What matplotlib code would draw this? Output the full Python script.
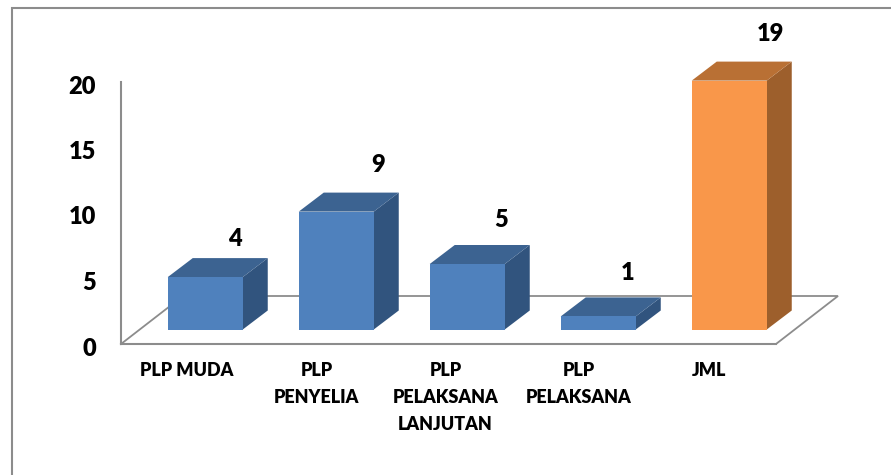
import matplotlib
matplotlib.use("Agg")
import matplotlib.pyplot as plt
from matplotlib.patches import Polygon
from matplotlib.lines import Line2D
from matplotlib.transforms import ScaledTranslation

plt.rcParams['font.family'] = ['Lato', 'DejaVu Sans']

categories = ["PLP MUDA", "PLP\nPENYELIA", "PLP\nPELAKSANA\nLANJUTAN", "PLP\nPELAKSANA", "JML"]
values = [4, 9, 5, 1, 19]
y_ticks = [0, 5, 10, 15, 20]

W, H = 891, 475
PX_X, PX_Y = 131.0, 13.1
label_dx = [30, 42, 34, 29.5, 41.5]
label_dy = [38, 47, 44, 43, 47]
cat_shift_px = [0, -1, -3, -1, -1]
BLUE = ("#4F81BD", "#3C6391", "#31547E")
ORANGE = ("#F9974A", "#B97034", "#9D5F2C")
colors = [BLUE, BLUE, BLUE, BLUE, ORANGE]
GRAY = "#8C8C8C"

fig = plt.figure(figsize=(W / 100, H / 100), dpi=100)
ax = fig.add_axes([121 / W, 1 - 344 / H, 655 / W, 262 / H])
ax.set_xlim(-0.5, 4.5)
ax.set_ylim(0, 20)
ax.patch.set_visible(False)

for s in ("top", "right"):
    ax.spines[s].set_visible(False)
for s in ("left", "bottom"):
    ax.spines[s].set_color(GRAY)
    ax.spines[s].set_linewidth(1.5)

ax.set_yticks(y_ticks)
ax.set_xticks(range(len(categories)))
ax.set_xticklabels(categories, fontsize=13, fontweight="heavy", linespacing=1.72, color="black")
ax.tick_params(axis="x", length=0, pad=13)
ax.tick_params(axis="y", length=0, pad=18, labelsize=17)
shift = ScaledTranslation(0, -2.5 / 100, fig.dpi_scale_trans)
for t in ax.get_yticklabels():
    t.set_fontweight("heavy")
    t.set_transform(t.get_transform() + shift)
for t, px in zip(ax.get_xticklabels(), cat_shift_px):
    t.set_transform(t.get_transform() + ScaledTranslation(px / 100, 0, fig.dpi_scale_trans))

# floor of the 3D box
fx, fy = 62 / PX_X, 48 / PX_Y
xl, xr = -0.5, 4.5
ax.plot([xl, xl + fx, xr + fx, xr, xl], [0, fy, fy, 0, 0], color=GRAY, lw=1.3,
        clip_on=False, zorder=1, solid_joinstyle="miter")

# 3D bars
ox, oy = 18.75 / PX_X, 14.5 / PX_Y
bw = 75 / PX_X
dx, dy = 25 / PX_X, 19 / PX_Y
for i, (v, (front, top, side)) in enumerate(zip(values, colors)):
    x0, x1 = i + ox - bw / 2, i + ox + bw / 2
    y0, y1 = oy, oy + v
    ax.add_patch(Polygon([(x1, y0), (x1 + dx, y0 + dy), (x1 + dx, y1 + dy), (x1, y1)],
                         closed=True, fc=side, ec="none", clip_on=False, zorder=3))
    ax.add_patch(Polygon([(x0, y1), (x0 + dx, y1 + dy), (x1 + dx, y1 + dy), (x1, y1)],
                         closed=True, fc=top, ec="none", clip_on=False, zorder=3))
    ax.add_patch(Polygon([(x0, y0), (x1, y0), (x1, y1), (x0, y1)],
                         closed=True, fc=front, ec="none", clip_on=False, zorder=4))
    ax.annotate(str(v), xy=(i + ox, y1), xytext=(label_dx[i] * 0.72, label_dy[i] * 0.72),
                textcoords="offset points", ha="center", va="center",
                fontsize=17, fontweight="heavy", color="black", annotation_clip=False, zorder=5)

# outer frame: left and top only
fig.add_artist(Line2D([11.5 / W, 11.5 / W, 1], [0, 1 - 8 / H, 1 - 8 / H],
                      color=GRAY, lw=1.5, transform=fig.transFigure, solid_joinstyle="miter"))

fig.savefig("out.png", dpi=100, facecolor="white")
